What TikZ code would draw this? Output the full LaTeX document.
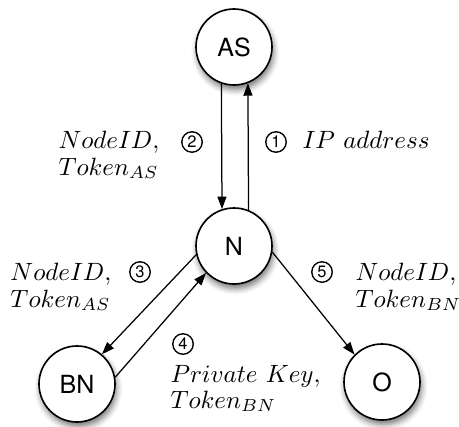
\documentclass[tikz,border=0pt]{standalone}
\usepackage{fontspec}
\setsansfont{TeX Gyre Heros}
\usetikzlibrary{arrows.meta,shadows.blur}
\begin{document}
\begin{tikzpicture}[x=0.4pt,y=-0.4pt,
  ent/.style={circle,draw,fill=white,line width=0.65pt,minimum size=30.4pt,inner sep=0pt,
    font=\sffamily\fontsize{10}{12}\selectfont,
    blur shadow={shadow xshift=0.6pt,shadow yshift=-1.8pt,shadow blur radius=2.4pt,shadow opacity=55}},
  num/.style={circle,draw,line width=0.55pt,minimum size=8.2pt,inner sep=0pt,font=\sffamily\fontsize{6.6}{7}\selectfont},
  lbl/.style={anchor=base west,inner sep=0pt},
  conn/.style={line width=0.5pt,-{Triangle[length=5pt,width=3.6pt]}}]
\useasboundingbox (0,0) rectangle (459,426);
\node[ent] (AS) at (234,47) {AS};
\node[ent] (N) at (234,246) {N};
\node[ent] (BN) at (77,384) {BN};
\node[ent] (O) at (382,382) {O};
% connectors
\draw[conn] (AS.251.6) -- (N.108.4);
\draw[conn] (N.68.4) -- (AS.291.6);
\draw[conn] (N.193) -- (BN.50);
\draw[conn] (BN.10) -- (N.224);
\draw[conn] (N.-9) -- (O.135);
% labels
\node[num] (n2) at (192,142) {2};
\node[lbl] (l2a) at (58,148) {$NodeID,$};
\node[lbl] (l2b) at (58,175) {$Token_{AS}$};
\node[num] (n1) at (276,142) {1};
\node[lbl] (l1) at (302,148) {$IP\ address$};
\node[num] (n3) at (140,272) {3};
\node[lbl] (l3a) at (10,280) {$NodeID,$};
\node[lbl] (l3b) at (10,307) {$Token_{AS}$};
\node[num] (n4) at (183,344) {4};
\node[lbl] (l4a) at (170,382) {$Private\ Key,$};
\node[lbl] (l4b) at (170,408) {$Token_{BN}$};
\node[num] (n5) at (322,272) {5};
\node[lbl] (l5a) at (355,280) {$NodeID,$};
\node[lbl] (l5b) at (355,307) {$Token_{BN}$};
\end{tikzpicture}
\end{document}
